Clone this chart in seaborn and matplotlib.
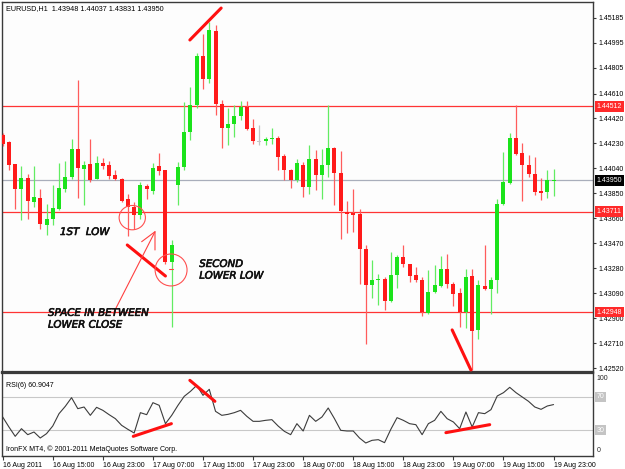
import matplotlib
matplotlib.use("Agg")
import matplotlib.pyplot as plt
import matplotlib.patheffects as pe
from matplotlib.patches import Ellipse
from matplotlib.transforms import blended_transform_factory
import numpy as np
import pandas as pd
import seaborn as sns

# ---------------- data (EURUSD H1, 16 Aug 2011 07:00 -> 19 Aug 2011 23:00) ----------------
opens = [1.44292, 1.44241, 1.44071, 1.43886, 1.43967, 1.43785, 1.43818, 1.43613, 1.43653, 1.43734,
         1.43881, 1.43975, 1.44191, 1.44039, 1.44071, 1.43962, 1.44082, 1.44064, 1.43988, 1.43957,
         1.43805, 1.43747, 1.43689, 1.43904, 1.43866, 1.44059, 1.44026, 1.43329, 1.43912, 1.44051,
         1.44317, 1.44525, 1.44895, 1.44718, 1.45085, 1.44533, 1.44348, 1.44381, 1.44439, 1.44507,
         1.44348, 1.44244, 1.44246, 1.44267, 1.44272, 1.44135, 1.44026, 1.43950, 1.44064, 1.43899,
         1.44110, 1.43988, 1.44064, 1.44196, 1.44008, 1.43709, 1.43699, 1.43696, 1.43430, 1.43156,
         1.43189, 1.43202, 1.43032, 1.43227, 1.43367, 1.43311, 1.43227, 1.43194, 1.42943, 1.43101,
         1.43146, 1.43278, 1.43164, 1.43093, 1.42948, 1.43222, 1.42809, 1.43144, 1.43121, 1.43189,
         1.43772, 1.43932, 1.44272, 1.44158, 1.44069, 1.43995, 1.43866, 1.43861, 1.43948]
highs = [1.44312, 1.44246, 1.44077, 1.44059, 1.43995, 1.44056, 1.43886, 1.43772, 1.43917, 1.44084,
         1.44094, 1.44267, 1.44715, 1.44094, 1.44267, 1.44135, 1.44120, 1.44094, 1.44026, 1.43970,
         1.43848, 1.43785, 1.43937, 1.43924, 1.44084, 1.44160, 1.44026, 1.43493, 1.44089, 1.44546,
         1.44660, 1.44918, 1.45065, 1.45154, 1.45129, 1.44558, 1.44500, 1.44520, 1.44551, 1.44551,
         1.44419, 1.44373, 1.44279, 1.44348, 1.44287, 1.44153, 1.44039, 1.44115, 1.44089, 1.44216,
         1.44178, 1.44191, 1.44520, 1.44201, 1.44173, 1.43793, 1.43881, 1.43734, 1.43461, 1.43341,
         1.43240, 1.43215, 1.43405, 1.43379, 1.43461, 1.43316, 1.43291, 1.43215, 1.43270, 1.43303,
         1.43374, 1.43392, 1.43177, 1.43131, 1.43278, 1.43278, 1.43189, 1.43455, 1.43215, 1.43810,
         1.44165, 1.44310, 1.44520, 1.44234, 1.44145, 1.44127, 1.43967, 1.44026, 1.44037]
lows = [1.44211, 1.44026, 1.43734, 1.43646, 1.43658, 1.43747, 1.43582, 1.43537, 1.43613, 1.43722,
        1.43861, 1.43962, 1.43815, 1.43760, 1.43937, 1.43957, 1.44039, 1.43962, 1.43950, 1.43785,
        1.43524, 1.43582, 1.43653, 1.43810, 1.43848, 1.43988, 1.43316, 1.42834, 1.43765, 1.44026,
        1.44254, 1.44500, 1.44642, 1.44693, 1.44444, 1.44198, 1.44221, 1.44279, 1.44406, 1.44330,
        1.44228, 1.44221, 1.44221, 1.44228, 1.44026, 1.43950, 1.43891, 1.43937, 1.43823, 1.43848,
        1.43874, 1.43810, 1.43975, 1.43760, 1.43506, 1.43549, 1.43557, 1.43164, 1.42708, 1.43055,
        1.42999, 1.42961, 1.43025, 1.43131, 1.43291, 1.43177, 1.43177, 1.42918, 1.42936, 1.43093,
        1.43139, 1.43131, 1.42994, 1.42834, 1.42827, 1.42510, 1.42746, 1.43113, 1.42936, 1.43096,
        1.43765, 1.43924, 1.44145, 1.43790, 1.43975, 1.43836, 1.43803, 1.43815, 1.43831]
closes = [1.44228, 1.44069, 1.43886, 1.43967, 1.43790, 1.43823, 1.43620, 1.43658, 1.43740, 1.43891,
          1.43975, 1.44191, 1.44046, 1.44064, 1.43955, 1.44084, 1.44056, 1.43983, 1.43957, 1.43793,
          1.43744, 1.43689, 1.43917, 1.43881, 1.44046, 1.44021, 1.43329, 1.43461, 1.44051, 1.44317,
          1.44525, 1.44895, 1.44718, 1.45091, 1.44533, 1.44348, 1.44381, 1.44439, 1.44507, 1.44343,
          1.44246, 1.44244, 1.44267, 1.44272, 1.44127, 1.44026, 1.43950, 1.44084, 1.43899, 1.44110,
          1.43988, 1.44064, 1.44196, 1.44008, 1.43717, 1.43696, 1.43689, 1.43430, 1.43156, 1.43194,
          1.43199, 1.43032, 1.43227, 1.43367, 1.43316, 1.43220, 1.43189, 1.42948, 1.43101, 1.43151,
          1.43278, 1.43164, 1.43088, 1.42948, 1.43215, 1.42801, 1.43151, 1.43121, 1.43194, 1.43772,
          1.43937, 1.44272, 1.44153, 1.44069, 1.43995, 1.43861, 1.43856, 1.43950, 1.43950]
rsi6 = [46.0, 34.0, 22.8, 32.0, 24.8, 28.0, 20.8, 26.0, 35.2, 50.0,
        58.8, 69.2, 56.0, 58.0, 48.0, 57.6, 54.0, 48.8, 44.0, 36.0,
        31.2, 26.8, 51.2, 48.8, 63.2, 60.0, 38.0, 48.0, 60.0, 70.8,
        76.8, 84.0, 72.0, 79.2, 52.8, 48.0, 49.2, 51.2, 54.0, 46.8,
        40.8, 40.8, 42.0, 42.8, 35.2, 28.8, 24.8, 38.0, 29.2, 48.0,
        40.8, 46.0, 56.8, 44.0, 30.0, 29.2, 29.2, 20.8, 14.8, 18.0,
        18.8, 15.2, 31.2, 45.2, 42.0, 38.0, 36.8, 24.8, 38.0, 42.0,
        52.8, 44.0, 40.0, 32.0, 52.0, 34.0, 51.2, 50.0, 54.8, 71.2,
        75.2, 81.6, 75.2, 70.0, 64.8, 58.0, 55.2, 59.2, 60.9047]
time_labels = ["16 Aug 2011", "16 Aug 15:00", "16 Aug 23:00", "17 Aug 07:00", "17 Aug 15:00",
               "17 Aug 23:00", "18 Aug 07:00", "18 Aug 15:00", "18 Aug 23:00", "19 Aug 07:00",
               "19 Aug 15:00", "19 Aug 23:00"]
price_ticks = [1.45185, 1.44995, 1.44805, 1.44610, 1.44420, 1.44230, 1.44040, 1.43850,
               1.43660, 1.43470, 1.43280, 1.43090, 1.42900, 1.42710, 1.42520]
level_lines = [1.44512, 1.43711, 1.42948]
bid_price = 1.43950
rsi_levels = [70, 30]

df = pd.DataFrame({"bar": np.arange(len(opens)), "open": opens, "high": highs,
                   "low": lows, "close": closes, "rsi": rsi6})

# ---------------- styling ----------------
sns.set_style("white")
plt.rcParams["font.family"] = ["Liberation Sans", "DejaVu Sans"]
FS = 5.0
UP, DOWN, DOJI = "#1be31b", "#ff1a1a", "#c4c4c4"
UP_W, DOWN_W = "#62ec62", "#ff5c5c"
FRAME = "#3a3a3a"

W, H = 625, 469
fig = plt.figure(figsize=(W / 100, H / 100), dpi=100)
fig.patch.set_facecolor("white")

def rect(x0, y0, x1, y1):
    return [x0 / W, 1 - y1 / H, (x1 - x0) / W, (y1 - y0) / H]

ax = fig.add_axes(rect(2, 2, 593, 372))
axr = fig.add_axes(rect(2, 373, 593, 456), sharex=ax)
for a in (ax, axr):
    a.set_facecolor("#fdfdfd")
    for s in a.spines.values():
        s.set_color(FRAME)
        s.set_linewidth(1.0)
ax.spines["bottom"].set_linewidth(1.6)
axr.spines["top"].set_linewidth(1.6)

# ---------------- candles ----------------
def ccol(o, c):
    return UP if c > o else (DOWN if c < o else DOJI)

def wcol(o, c):
    return UP_W if c > o else (DOWN_W if c < o else DOJI)

cols = [ccol(o, c) for o, c in zip(df.open, df.close)]
wcols = [wcol(o, c) for o, c in zip(df.open, df.close)]
ax.vlines(df.bar, df.low, df.high, colors=wcols, linewidth=0.9, zorder=3)
body_bottom = np.minimum(df.open, df.close)
body_h = np.maximum(np.abs(df.close - df.open), 0.00008)
ax.bar(df.bar, body_h, bottom=body_bottom, width=0.64, color=cols, linewidth=0, zorder=4)

# horizontal levels
for lv in level_lines:
    ax.axhline(lv, color="#ff3434", linewidth=0.9, zorder=2)
ax.axhline(bid_price, color="#a9aebb", linewidth=0.9, zorder=2)

ax.set_xlim(-0.11, 94.3)
ax.set_ylim(1.42492, 1.45306)
ax.yaxis.tick_right()
ax.set_yticks(price_ticks)
ax.set_yticklabels([f"{v:.5f}" for v in price_ticks])
ax.tick_params(axis="y", which="both", right=True, length=2.5, width=0.8, color=FRAME,
               pad=1.5, labelsize=FS, labelcolor="black")
ax.tick_params(axis="x", which="both", bottom=False, labelbottom=False)
ax.set_xlabel("")
ax.set_ylabel("")

tr = blended_transform_factory(ax.transAxes, ax.transData)
for lv in level_lines:
    ax.text(1.006, lv, f"{lv:.5f}", transform=tr, ha="left", va="center", fontsize=FS,
            color="white", zorder=10, clip_on=False,
            bbox=dict(boxstyle="square,pad=0.25", facecolor="#ff2a2a", edgecolor="none"))
ax.text(1.006, bid_price, f"{bid_price:.5f}", transform=tr, ha="left", va="center",
        fontsize=FS, color="white", zorder=10, clip_on=False,
        bbox=dict(boxstyle="square,pad=0.25", facecolor="black", edgecolor="none"))

ax.text(0.006, 0.982, "EURUSD,H1  1.43948 1.44037 1.43831 1.43950", transform=ax.transAxes,
        ha="left", va="center", fontsize=5.2, color="black")

# ---------------- hand-drawn annotations (main) ----------------
RED = "#ff1010"
ax.plot([29.9, 34.9], [1.45017, 1.45260], color=RED, lw=2.2, solid_capstyle="round", zorder=6)
ax.plot([19.9, 26.0], [1.43458, 1.43222], color=RED, lw=2.2, solid_capstyle="round", zorder=6)
ax.plot([71.8, 74.8], [1.42812, 1.42507], color=RED, lw=2.2, solid_capstyle="round", zorder=6,
        clip_on=False)
ax.add_patch(Ellipse((20.7, 1.43666), 4.2, 0.00185, fill=False, edgecolor="#ff5050", lw=0.8, zorder=6))
ax.add_patch(Ellipse((26.9, 1.43268), 5.1, 0.00243, fill=False, edgecolor="#ff5050", lw=0.8, zorder=6))
ax.plot([17.67, 24.33], [1.42938, 1.43559], color="#ff4040", lw=0.8, zorder=6)
ax.plot([22.2, 24.33, 24.33], [1.43483, 1.43559, 1.43420], color="#ff4040", lw=0.8, zorder=6)
ax.plot([26.5, 27.2], [1.43273, 1.43273], color="#ff4040", lw=0.8, zorder=6)

tstyle = dict(fontsize=7.4, fontstyle="italic", color="#111111",
              ha="left", va="center", zorder=7, family=["DejaVu Sans"])
for txt, xb, yp in [("1ST  LOW", 9.15, 1.43557),
                    ("SECOND", 31.4, 1.43314), ("LOWER LOW", 31.4, 1.43225),
                    ("SPACE IN BETWEEN", 7.24, 1.42942), ("LOWER CLOSE", 7.24, 1.42852)]:
    t = ax.text(xb, yp, txt, **tstyle)
    t.set_path_effects([pe.withStroke(linewidth=0.45, foreground="#111111")])

# ---------------- RSI panel ----------------
for lv in rsi_levels:
    axr.axhline(lv, color="#c8c8c8", linewidth=0.8, zorder=1)
sns.lineplot(data=df, x="bar", y="rsi", ax=axr, color="#3c3c3c", linewidth=0.8, zorder=3)
axr.set_ylim(-0.8, 98.8)
axr.set_yticks([])
axr.set_xlabel("")
axr.set_ylabel("")
trr = blended_transform_factory(axr.transAxes, axr.transData)
for lv in rsi_levels:
    axr.text(1.006, lv, str(lv), transform=trr, ha="left", va="center", fontsize=FS,
             color="white", clip_on=False,
             bbox=dict(boxstyle="square,pad=0.2", facecolor="#c4c4c4", edgecolor="none"))
axr.text(1.006, 92.0, "100", transform=trr, ha="left", va="center", fontsize=FS, clip_on=False)
axr.text(1.006, 6.0, "0", transform=trr, ha="left", va="center", fontsize=FS, clip_on=False)
axr.text(0.006, 0.85, "RSI(6) 60.9047", transform=axr.transAxes, ha="left", va="center",
         fontsize=FS, color="black")
axr.text(0.006, 0.085, "IronFX MT4, \u00a9 2001-2011 MetaQuotes Software Corp.",
         transform=axr.transAxes, ha="left", va="center", fontsize=FS, color="black")

axr.plot([20.86, 26.95], [22.8, 38.0], color=RED, lw=2.2, solid_capstyle="round", zorder=5)
axr.plot([29.9, 33.9], [90.0, 64.8], color=RED, lw=2.2, solid_capstyle="round", zorder=5)
axr.plot([70.8, 77.8], [27.2, 36.8], color=RED, lw=2.2, solid_capstyle="round", zorder=5)

tick_pos = list(range(0, 8 * len(time_labels), 8))
axr.set_xticks(tick_pos)
axr.set_xticklabels(time_labels)
axr.tick_params(axis="x", bottom=True, length=3, width=0.8, color=FRAME, pad=1.5,
                labelsize=FS, labelcolor="black")
for lab in axr.get_xticklabels():
    lab.set_horizontalalignment("left")

fig.savefig("out.png", dpi=100, facecolor="white")
